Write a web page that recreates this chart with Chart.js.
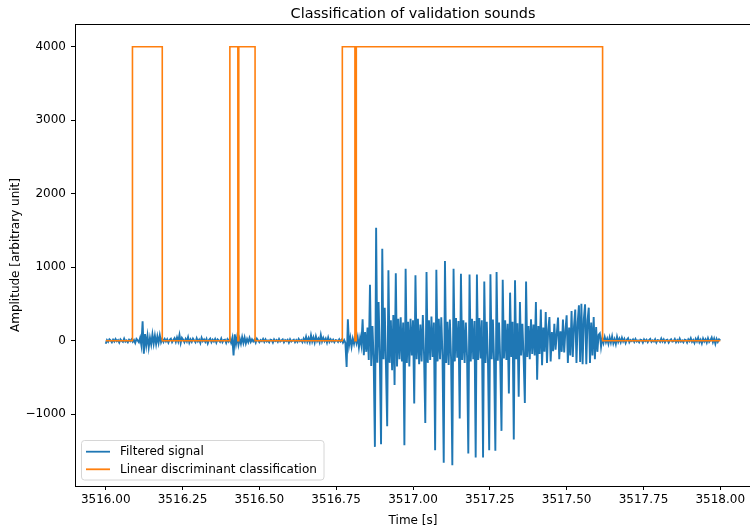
<!DOCTYPE html>
<html>
<head>
<meta charset="utf-8">
<script src="https://cdn.jsdelivr.net/npm/chart.js@4"></script>
<style>
  html, body { margin: 0; padding: 0; background: #fff; overflow: hidden; width: 750px; height: 531px; }
  canvas { display: block; }
</style>
</head>
<body>
<canvas id="chart" width="760" height="531"></canvas>
<script>
// Filtered microphone signal, sampled every 4 ms from t = 3516.000 s
const signalStart = 3516.0;
const signalStep = 0.004;
const signalValues = [
  -40, 10, -15, 20, 5, -20, 15, -10, 25, -5,
  10, -25, 20, 0, -15, 30, -10, 5, -20, 15,
  -5, 20, -15, 10, -30, 25, 5, -20, 40, -60,
  265, -175, 90, -60, 70, -90, 40, -50, 85, -40,
  70, -45, 60, -30, 75, -20, 30, -15, 25, -10,
  20, -25, 15, 30, -20, 10, 35, -15, 45, -10,
  80, -30, 40, 15, -20, 25, -10, 50, -25, 20,
  -15, 30, 5, -20, 35, -10, 15, -30, 40, -5,
  20, -15, 25, -35, 10, 30, -20, 15, -10, 25,
  -25, 20, 5, -15, 30, -20, 10, 15, -30, 20,
  -10, 35, -25, 40, -200, 88, -45, 60, -55, 30,
  -40, 50, -30, 45, -35, 25, -20, 40, -15, 20,
  -10, 15, -25, 30, 5, -20, 10, -5, 25, -15,
  20, -10, 5, -20, 15, 10, -25, 20, -5, 10,
  -15, 25, -10, 5, 20, -20, 10, -5, 15, -25,
  20, -10, 5, 15, -20, 10, -15, 25, -5, 10,
  -20, 30, -10, 55, -15, 35, -20, 75, -10, 45,
  -25, 60, -5, 30, -20, 80, -10, 40, -5, 30,
  -25, 45, -15, 20, -10, 15, -20, 10, 5, -15,
  20, -10, 15, -25, 10, -30, -356, 292, -60, 40,
  -80, 30, -40, 60, -30, 50, -90, 40, -60, 292,
  -197, 120, -150, 180, -260, 763, -342, 200, -250, -1443,
  1538, -300, 527, -200, -1406, 1252, -250, 450, -350, -1162,
  958, -300, 280, -400, 350, -600, 920, -350, 300, -250,
  320, -280, 250, -1420, 981, -300, 260, -350, 300, -200,
  280, -853, 890, -250, 300, -320, 220, -280, 350, -200,
  -1117, 935, -300, 280, -260, 330, -220, 250, -1488, 967,
  -280, 300, -250, 320, -200, -1660, 1084, -300, 260, -330,
  290, -250, -1692, 981, -280, 310, -230, 270, -1057, 913,
  -260, 280, -300, 250, -220, -1533, 900, -280, 300, -250,
  270, -1587, 900, -260, 310, -240, 280, -1587, 808, -300,
  260, -280, -1488, 905, -250, 290, -300, -1497, 935, -270,
  250, -290, -1225, 831, -240, 280, -260, 230, -718, 655,
  -220, 260, -1343, 822, -250, 240, -760, 527, -200, 230,
  -230, -845, 808, -220, 200, -250, 292, -180, 220, -200,
  527, -528, 200, -180, 424, -333, 180, -150, 392, -300,
  150, 324, -280, 120, -140, 230, -120, 100, 315, -250,
  130, -150, 290, -160, 140, 346, -300, 180, -200, 405,
  -220, 200, 424, -300, 250, 482, -288, 505, -320, 300,
  496, -320, 280, 450, -300, 250, -200, 324, -250, 188,
  -150, 80, 100, -80, 40, -30, 50, -20, 30, -40,
  45, -25, 60, -35, 20, -45, 55, -15, 30, -20,
  40, -10, 25, -30, 15, 35, -20, 10, -5, 20,
  -15, 25, -10, 5, -20, 15, 10, -25, 20, -5,
  15, -20, 10, 25, -15, 5, -10, 20, -25, 10,
  5, -15, 30, -10, 20, -20, 10, 15, -25, 5,
  20, -10, -5, 25, -20, 10, -15, 30, -10, 5,
  -20, 15, 10, -25, 20, -5, 35, -15, 10, -30,
  25, -10, 40, -20, 15, -35, 30, -10, 20, -25,
  35, -15, 10, 45, -20, 30, -40, 25, -15, 20,
  5
];

// Classifier output: time at which each state starts, and its level
const classTimes = [3516.000, 3516.087, 3516.184, 3516.404, 3516.430, 3516.433, 3516.486,
                    3516.770, 3516.8110, 3516.8155, 3517.617, 3518.000];
const classLevels = [0, 4000, 0, 4000, 0, 4000, 0,
                     4000, 0, 4000, 0, 0];

const seriesLabels = ['Filtered signal', 'Linear discriminant classification'];
const seriesColors = ['#1f77b4', '#ff7f0e'];

const xTicks = [3516.00, 3516.25, 3516.50, 3516.75, 3517.00, 3517.25, 3517.50, 3517.75, 3518.00];
const yTicks = [-1000, 0, 1000, 2000, 3000, 4000];

const titleText = 'Classification of validation sounds';
const xTitle = 'Time [s]';
const yTitle = 'Amplitude [arbitrary unit]';

const FONT = '"DejaVu Sans", sans-serif';

const signalPoints = signalValues.map((v, i) => ({ x: signalStart + i * signalStep, y: v }));
const classPoints = classTimes.map((t, i) => ({ x: t, y: classLevels[i] }));

// Title, axis titles, top spine and the in-plot legend
const decorations = {
  id: 'decorations',
  afterDraw(chart) {
    const { ctx, chartArea: a } = chart;
    ctx.save();
    // top spine
    ctx.strokeStyle = '#000';
    ctx.lineWidth = 1;
    ctx.beginPath();
    ctx.moveTo(a.left, Math.round(a.top) + 0.5);
    ctx.lineTo(a.right, Math.round(a.top) + 0.5);
    ctx.stroke();

    ctx.fillStyle = '#000';
    ctx.textAlign = 'center';
    ctx.textBaseline = 'alphabetic';
    ctx.font = '14.4px ' + FONT;
    ctx.fillText(titleText, (a.left + a.right) / 2, 17.5);

    ctx.font = '12px ' + FONT;
    ctx.fillText(xTitle, (a.left + a.right) / 2, 523.5);

    ctx.save();
    ctx.translate(18.5, (a.top + a.bottom) / 2);
    ctx.rotate(-Math.PI / 2);
    ctx.fillText(yTitle, 0, 0);
    ctx.restore();

    // legend box
    const bx = 81.5, by = 440.5, bw = 242.5, bh = 39.5, r = 3;
    ctx.beginPath();
    ctx.moveTo(bx + r, by);
    ctx.lineTo(bx + bw - r, by);
    ctx.arcTo(bx + bw, by, bx + bw, by + r, r);
    ctx.lineTo(bx + bw, by + bh - r);
    ctx.arcTo(bx + bw, by + bh, bx + bw - r, by + bh, r);
    ctx.lineTo(bx + r, by + bh);
    ctx.arcTo(bx, by + bh, bx, by + bh - r, r);
    ctx.lineTo(bx, by + r);
    ctx.arcTo(bx, by, bx + r, by, r);
    ctx.closePath();
    ctx.fillStyle = 'rgba(255,255,255,0.8)';
    ctx.fill();
    ctx.strokeStyle = '#d6d6d6';
    ctx.lineWidth = 1;
    ctx.stroke();

    const rows = [451.7, 469.3];
    ctx.textAlign = 'left';
    ctx.textBaseline = 'middle';
    chart.data.datasets.forEach((ds, i) => {
      const y = rows[i];
      ctx.strokeStyle = ds.borderColor;
      ctx.lineWidth = 1.8;
      ctx.beginPath();
      ctx.moveTo(86, y);
      ctx.lineTo(110, y);
      ctx.stroke();
      ctx.fillStyle = '#000';
      ctx.fillText(ds.label, 120, y + 0.5);
    });
    ctx.restore();
  }
};

new Chart(document.getElementById('chart'), {
  type: 'line',
  data: {
    datasets: [
      {
        label: seriesLabels[0],
        data: signalPoints,
        borderColor: seriesColors[0],
        borderWidth: 1.9,
        pointRadius: 0,
        tension: 0,
        order: 1
      },
      {
        label: seriesLabels[1],
        data: classPoints,
        borderColor: seriesColors[1],
        borderWidth: 1.6,
        pointRadius: 0,
        stepped: true,
        order: 0
      }
    ]
  },
  options: {
    responsive: false,
    animation: false,
    devicePixelRatio: 1,
    layout: { padding: { top: 24, right: 9, left: 0, bottom: 0 } },
    plugins: {
      legend: { display: false },
      tooltip: { enabled: false },
      title: { display: false }
    },
    scales: {
      x: {
        type: 'linear',
        min: 3515.9,
        max: 3518.1,
        afterFit: s => { s.height = 45; },
        afterBuildTicks: s => { s.ticks = xTicks.map(v => ({ value: v })); },
        ticks: {
          color: '#000',
          font: { family: FONT, size: 12 },
          padding: 3,
          maxRotation: 0,
          autoSkip: false,
          callback: v => Number(v).toFixed(2)
        },
        grid: { display: true, drawOnChartArea: false, drawTicks: true, tickLength: 4, color: '#000', lineWidth: 1 },
        border: { display: true, color: '#000', width: 1 }
      },
      y: {
        type: 'linear',
        min: -1975,
        max: 4309,
        afterFit: s => { s.width = 75; },
        afterBuildTicks: s => { s.ticks = yTicks.map(v => ({ value: v })); },
        ticks: {
          color: '#000',
          font: { family: FONT, size: 12 },
          padding: 5,
          autoSkip: false,
          callback: v => (v < 0 ? '\u2212' + Math.abs(v) : String(v))
        },
        grid: { display: true, drawOnChartArea: false, drawTicks: true, tickLength: 4, color: '#000', lineWidth: 1 },
        border: { display: true, color: '#000', width: 1 }
      }
    }
  },
  plugins: [decorations]
});
</script>
</body>
</html>
